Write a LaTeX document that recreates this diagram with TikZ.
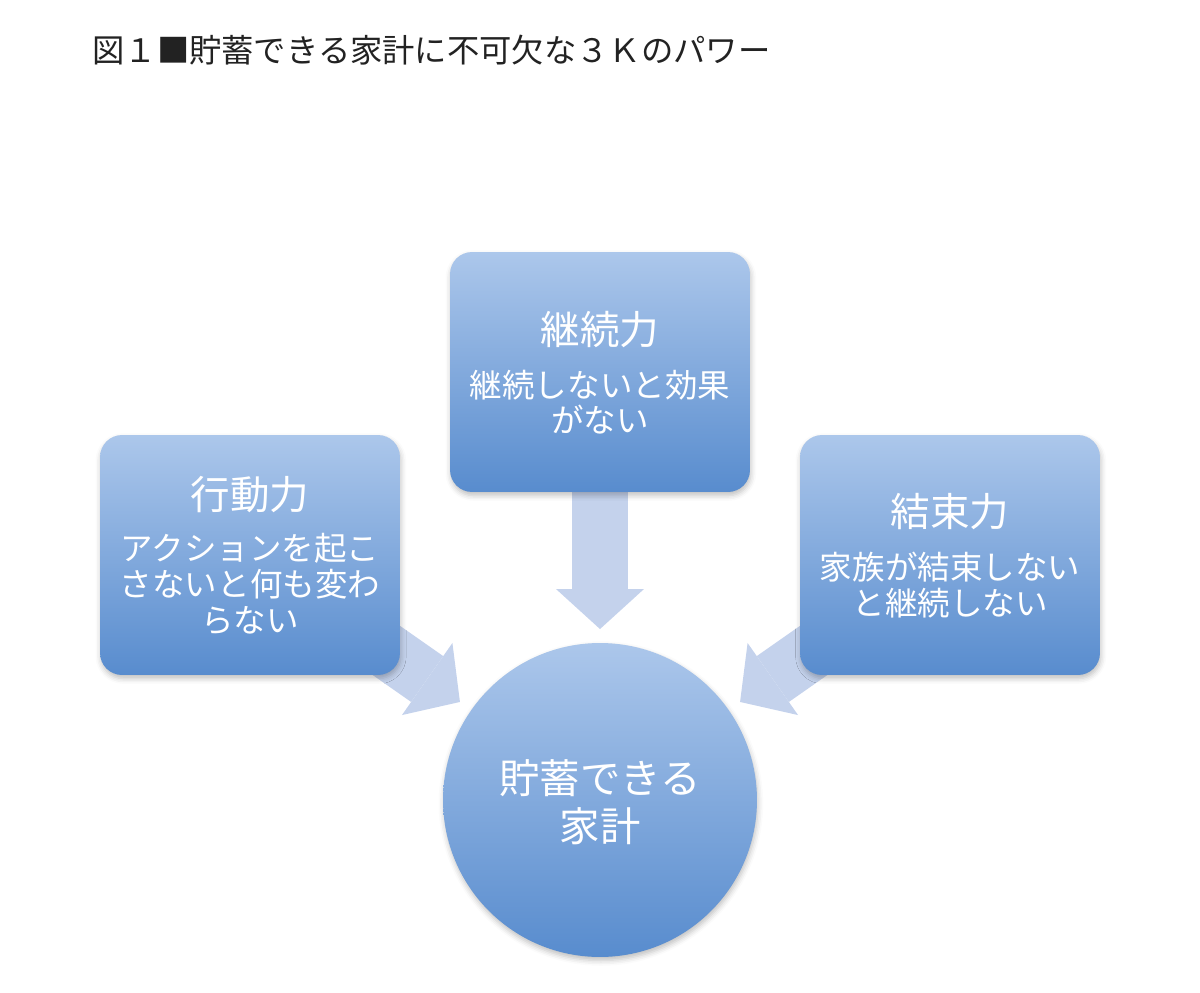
\documentclass[tikz,border=0pt]{standalone}
\usepackage{fontspec}
\setmainfont{Noto Sans CJK JP}
\usetikzlibrary{arrows.meta,backgrounds,shadows.blur}
\definecolor{boxtop}{RGB}{172,199,235}
\definecolor{boxbot}{RGB}{88,140,206}
\definecolor{arrowc}{RGB}{196,210,236}
\definecolor{titlec}{RGB}{34,34,34}
\tikzset{
  box/.style={rectangle, rounded corners=0.44cm, minimum width=6cm, minimum height=4.8cm,
    inner sep=0pt, top color=boxtop, bottom color=boxbot, draw=none,
    blur shadow={shadow xshift=0.5pt, shadow yshift=-2pt, shadow blur radius=3pt, shadow opacity=25}},
  hub/.style={circle, minimum size=6.28cm, inner sep=0pt, top color=boxtop, bottom color=boxbot, draw=none,
    blur shadow={shadow xshift=0.5pt, shadow yshift=-2pt, shadow blur radius=3pt, shadow opacity=25}},
  headtxt/.style={text=white, font=\fontsize{22.5}{26}\selectfont, inner sep=0pt},
  bodytxt/.style={text=white, align=center, inner sep=0pt},
  fat/.style={draw=arrowc, line width=1.12cm, line cap=butt, shorten >=3.42cm,
    -{Triangle[width=1.76cm,length=0.8cm,line width=0pt 0]}},
}
\begin{document}
\begin{tikzpicture}[x=0.02cm,y=-0.02cm]
\useasboundingbox (0,0) rectangle (1200,993);
\node[anchor=west, text=titlec, font=\fontsize{18.4}{22}\selectfont, inner sep=0pt] (title) at (92,50) {図１■貯蓄できる家計に不可欠な３Ｋのパワー};

\node[box] (T) at (600,372) {};
\node[box] (L) at (250,555) {};
\node[box] (R) at (950,555) {};
\node[hub] (C) at (600,800) {};

\begin{pgfonlayer}{background}
\draw[fat] (T.center) -- (C.center);
\draw[fat] (L.center) -- (C.center);
\draw[fat] (R.center) -- (C.center);
\end{pgfonlayer}

\node[headtxt] (Th) at (600,330) {継続力};
\node[bodytxt, font=\fontsize{18.5}{20}\selectfont] (Tb) at (600,402) {継続しないと効果\\がない};
\node[headtxt] (Lh) at (250,495) {行動力};
\node[bodytxt, font=\fontsize{18.5}{20.5}\selectfont] (Lb) at (250,584) {アクションを起こ\\さないと何も変わ\\らない};
\node[headtxt] (Rh) at (950,512) {結束力};
\node[bodytxt, font=\fontsize{18.5}{20.5}\selectfont] (Rb) at (950,585) {家族が結束しない\\と継続しない};
\node[bodytxt, font=\fontsize{23}{27.3}\selectfont] (Ct) at (600,802) {貯蓄できる\\家計};
\end{tikzpicture}
\end{document}
